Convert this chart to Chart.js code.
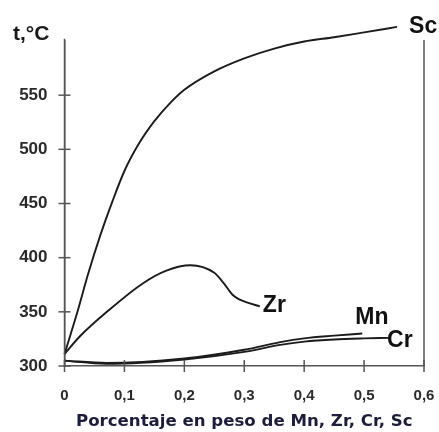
<!DOCTYPE html>
<html>
<head>
<meta charset="utf-8">
<script src="https://cdn.jsdelivr.net/npm/chart.js@4.4.1/dist/chart.umd.min.js"></script>
<style>
html,body{margin:0;padding:0;background:#fff;}
#wrap{width:439px;height:432px;}
</style>
</head>
<body>
<div id="wrap"><canvas id="c" width="439" height="432"></canvas></div>
<script>
// ---- data ----
const seriesNames = ['Sc', 'Zr', 'Mn', 'Cr'];
const scX = [0, 0.02, 0.04, 0.06, 0.08, 0.1, 0.125, 0.15, 0.175, 0.2, 0.25, 0.3, 0.35, 0.4, 0.45, 0.5, 0.555];
const scY = [311, 347, 386, 421, 452, 480, 506, 526, 542, 555, 572, 584, 593, 599.5, 603.5, 608, 613];
const zrX = [0, 0.025, 0.075, 0.13, 0.17, 0.21, 0.25, 0.265, 0.28, 0.29, 0.303, 0.326];
const zrY = [311, 327, 352, 376, 388, 393, 386, 377, 366, 362, 359, 355];
const mnX = [0, 0.07, 0.2, 0.3, 0.36, 0.4, 0.45, 0.497];
const mnY = [305, 302.8, 307, 315, 322, 325.5, 328, 330];
const crX = [0, 0.07, 0.2, 0.3, 0.36, 0.4, 0.45, 0.5, 0.54];
const crY = [305, 302, 306, 313, 319.5, 322.5, 324.5, 325.5, 326];
const xTicks = [0, 0.1, 0.2, 0.3, 0.4, 0.5, 0.6];
const xTickLabels = ['0', '0,1', '0,2', '0,3', '0,4', '0,5', '0,6'];
const yTicks = [300, 350, 400, 450, 500, 550];
const yTickLabels = ['300', '350', '400', '450', '500', '550'];
const xTitle = 'Porcentaje en peso de Mn, Zr, Cr, Sc';
const yTitle = 't,°C';

function pts(xs, ys){ return xs.map((x,i)=>({x:x, y:ys[i]})); }

const lineColor = '#1b1b1b';
function ds(name, xs, ys){
  return {label:name, data:pts(xs, ys), showLine:true, borderColor:lineColor, borderWidth:1.9,
    pointRadius:0, pointHoverRadius:0, cubicInterpolationMode:'monotone', clip:false, fill:false};
}

// label offsets relative to the last point of each series (dx to text left, dy to text middle)
const labelStyle = {
  Sc:{dx:12, dy:0, size:23},
  Zr:{dx:3, dy:-1, size:23},
  Mn:{dx:-7, dy:-16, size:23},
  Cr:{dx:-1, dy:3, size:23}
};

const deco = {
  id:'deco',
  afterDraw(chart){
    const ctx = chart.ctx, a = chart.chartArea;
    const xs = chart.scales.x, ys = chart.scales.y;
    ctx.save();
    ctx.strokeStyle = '#555';
    ctx.lineWidth = 1.5;
    // right frame line
    ctx.beginPath();
    ctx.moveTo(a.right, ys.getPixelForValue(601));
    ctx.lineTo(a.right, a.bottom);
    ctx.stroke();
    // y ticks crossing axis
    yTicks.forEach(v=>{
      const p = ys.getPixelForValue(v);
      ctx.beginPath(); ctx.moveTo(a.left-6, p); ctx.lineTo(a.left+6, p); ctx.stroke();
    });
    // x ticks crossing axis
    xTicks.forEach(v=>{
      const p = xs.getPixelForValue(v);
      ctx.beginPath(); ctx.moveTo(p, a.bottom-6); ctx.lineTo(p, a.bottom+6); ctx.stroke();
    });
    // y axis extends to top
    ctx.beginPath(); ctx.moveTo(a.left, ys.getPixelForValue(602)); ctx.lineTo(a.left, a.bottom); ctx.stroke();
    // y title
    ctx.fillStyle = '#1a1a1a';
    ctx.font = 'bold 21px "Liberation Sans", Arial, sans-serif';
    ctx.textBaseline = 'middle';
    ctx.textAlign = 'left';
    ctx.fillText(yTitle, 13, 34);
    // series labels
    chart.data.datasets.forEach((d, i)=>{
      const meta = chart.getDatasetMeta(i);
      const last = meta.data[meta.data.length-1];
      const st = labelStyle[d.label];
      ctx.font = 'bold ' + st.size + 'px "Liberation Sans", Arial, sans-serif';
      ctx.fillStyle = '#111';
      ctx.fillText(d.label, last.x + st.dx, last.y + st.dy);
    });
    ctx.restore();
  }
};

new Chart(document.getElementById('c'), {
  type:'scatter',
  data:{datasets:[ds(seriesNames[0], scX, scY), ds(seriesNames[1], zrX, zrY), ds(seriesNames[2], mnX, mnY), ds(seriesNames[3], crX, crY)]},
  options:{
    responsive:false, animation:false, maintainAspectRatio:false,
    layout:{padding:{top:41, right:15, left:0, bottom:0}},
    plugins:{legend:{display:false}, tooltip:{enabled:false}},
    scales:{
      x:{type:'linear', min:0, max:0.6,
        afterBuildTicks(s){ s.ticks = xTicks.map(v=>({value:v})); },
        afterFit(s){ s.height = 66; s.paddingLeft = 0; s.paddingRight = 0; },
        ticks:{callback(v){ const i = xTicks.indexOf(v); return i>=0 ? xTickLabels[i] : ''; },
          font:{family:'"Liberation Sans", Arial, sans-serif', size:15, weight:'bold'}, color:'#2a2a2a', padding:21, maxRotation:0, autoSkip:false},
        grid:{display:true, drawOnChartArea:false, drawTicks:false},
        border:{display:true, color:'#555', width:1.5},
        title:{display:true, text:xTitle, color:'#1c1c3c', font:{family:'"DejaVu Sans", sans-serif', size:16.6, weight:'bold', lineHeight:1.0}, padding:{top:0, bottom:2}}
      },
      y:{type:'linear', min:300, max:600,
        afterBuildTicks(s){ s.ticks = yTicks.map(v=>({value:v})); },
        afterFit(s){ s.width = 64.5; s.paddingTop = 0; s.paddingBottom = 0; },
        ticks:{callback(v){ const i = yTicks.indexOf(v); return i>=0 ? yTickLabels[i] : ''; },
          font:{family:'"Liberation Sans", Arial, sans-serif', size:17, weight:'bold'}, color:'#2a2a2a', padding:17, autoSkip:false},
        grid:{display:true, drawOnChartArea:false, drawTicks:false},
        border:{display:true, color:'#555', width:1.5}
      }
    }
  },
  plugins:[deco]
});
</script>
</body>
</html>
